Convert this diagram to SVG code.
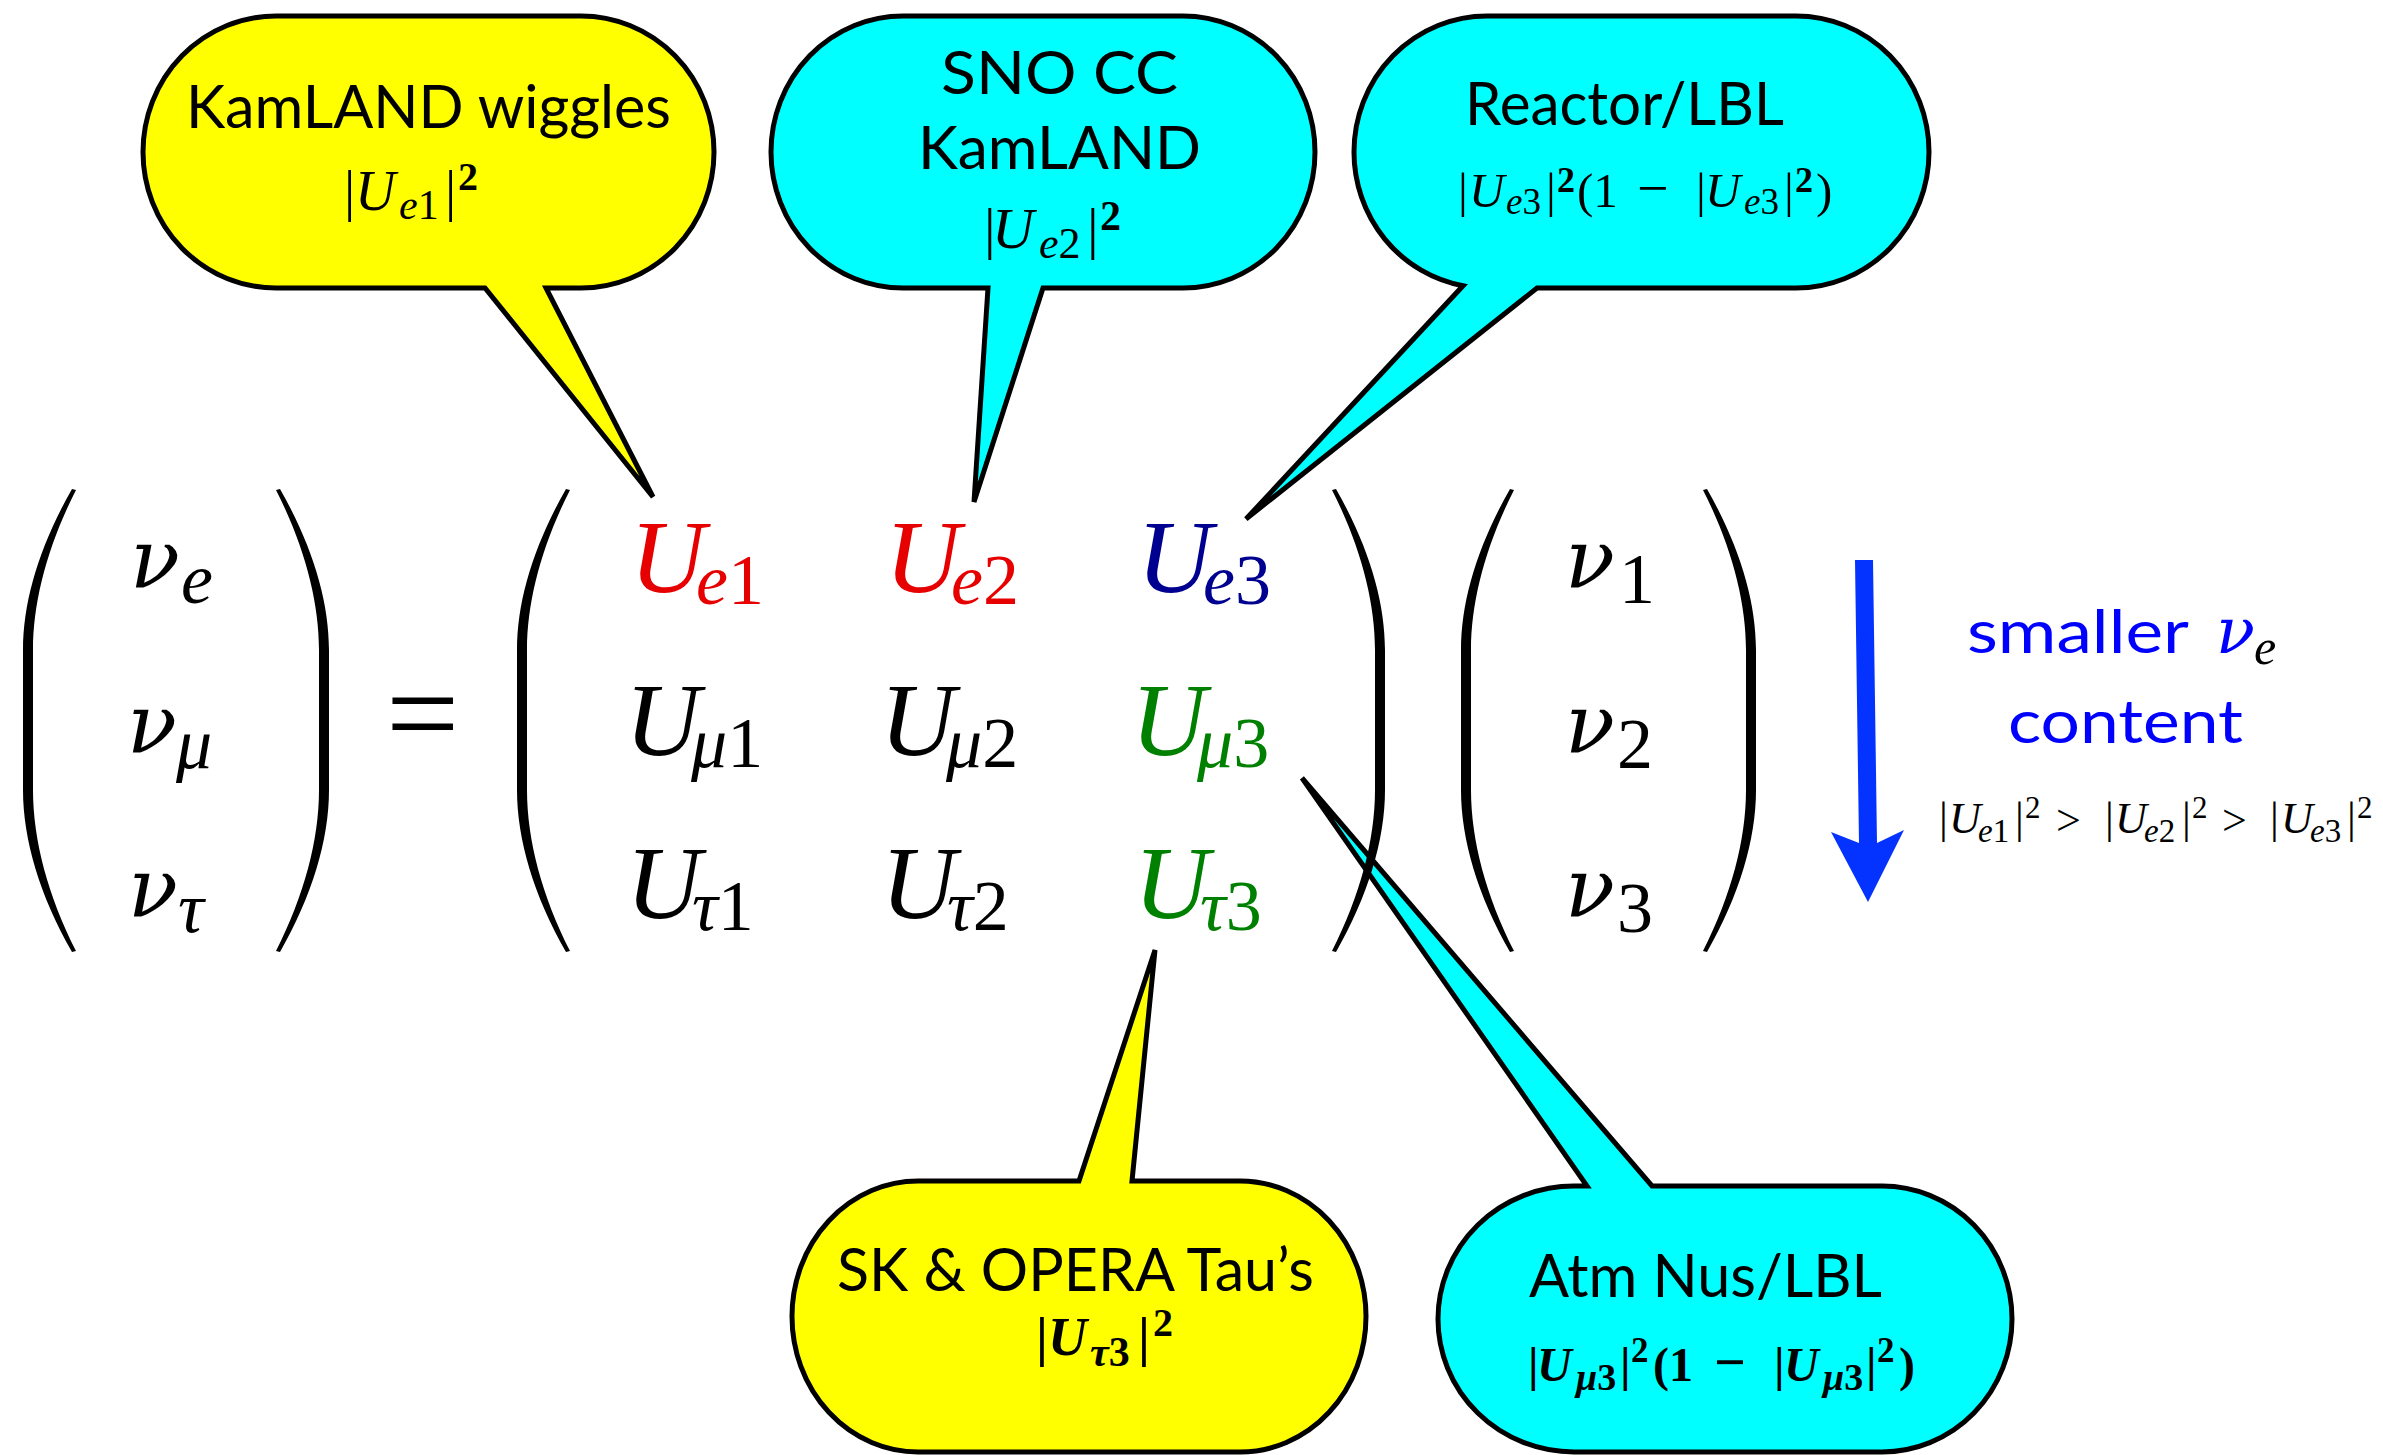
<svg xmlns="http://www.w3.org/2000/svg" xmlns:xlink="http://www.w3.org/1999/xlink" width="2383" height="1455" viewBox="0 0 2383 1455">
<style>
.bub{stroke:#000;stroke-width:5;stroke-linejoin:miter}
.y{fill:#ffff00}
.c{fill:#00ffff}
.t{font-family:Lato,"Open Sans","Liberation Sans",sans-serif;font-size:60px;fill:#000}
.m{font-family:"Liberation Serif","DejaVu Serif",serif;fill:#000}
.nu{font-family:"DejaVu Serif","Liberation Serif",serif;font-style:italic;font-size:82px}
.i{font-style:italic}
.b{font-weight:bold}
.big{font-size:104px}
.sub{font-size:72px}
.red{fill:#e60000}
.navy{fill:#000090}
.grn{fill:#008000}
.blue{fill:#0000ff}
.par{fill:#000}
</style>
<defs>
<path id="lp" d="M0,489 C-32,545 -49,600 -49,650 L-49,790 C-49,840 -32,896 0,952 L4,951 C-24,896 -39,840 -39,790 L-39,650 C-39,600 -24,545 4,490 Z"/>
</defs>

<g id="bubble-kamland-wiggles">
<path class="bub y" d="M276,16 H581 A133,136 0 0 1 714,152 A133,136 0 0 1 581,288 H546 L653,497 L485,288 H276 A133,136 0 0 1 143,152 A133,136 0 0 1 276,16 Z"/>
<text class="t" x="186" y="128" textLength="485" lengthAdjust="spacingAndGlyphs">KamLAND wiggles</text>
<text class="m" font-size="56"><tspan x="344" y="210">|</tspan><tspan x="355" class="i">U</tspan><tspan x="399" y="219" font-size="42" class="i">e</tspan><tspan font-size="42">1</tspan><tspan x="445" y="210">|</tspan><tspan x="458" y="190" font-size="40" class="b">2</tspan></text>
</g>

<g id="bubble-sno-cc">
<path class="bub c" d="M903,16 H1183 A132,136 0 0 1 1315,152 A132,136 0 0 1 1183,288 H1043 L974,502 L988,288 H903 A132,136 0 0 1 771,152 A132,136 0 0 1 903,16 Z"/>
<text class="t" x="941" y="94" textLength="237" lengthAdjust="spacingAndGlyphs">SNO CC</text>
<text class="t" x="918" y="169" textLength="283" lengthAdjust="spacingAndGlyphs">KamLAND</text>
<text class="m" font-size="58"><tspan x="984" y="248">|</tspan><tspan x="992" class="i">U</tspan><tspan x="1039" y="258" font-size="44" class="i">e</tspan><tspan font-size="44">2</tspan><tspan x="1087" y="248">|</tspan><tspan x="1100" y="230" font-size="42" class="b">2</tspan></text>
</g>

<g id="bubble-reactor-lbl">
<path class="bub c" d="M1487,16 H1796 A133,136 0 0 1 1929,152 A133,136 0 0 1 1796,288 H1537 L1246,519 L1463,285.8 A133,136 0 0 1 1354,152 A133,136 0 0 1 1487,16 Z"/>
<text class="t" x="1465" y="125" textLength="319" lengthAdjust="spacingAndGlyphs">Reactor/LBL</text>
<text class="m" font-size="49"><tspan x="1458" y="207">|</tspan><tspan x="1469" class="i">U</tspan><tspan x="1506" y="214" font-size="37" class="i">e</tspan><tspan font-size="37">3</tspan><tspan x="1546" y="207">|</tspan><tspan x="1557" y="192" font-size="36" class="b">2</tspan><tspan x="1577" y="207">(1</tspan><tspan x="1637" font-size="56">−</tspan><tspan x="1696" font-size="49">|</tspan><tspan x="1705" class="i">U</tspan><tspan x="1744" y="214" font-size="37" class="i">e</tspan><tspan font-size="37">3</tspan><tspan x="1784" y="207">|</tspan><tspan x="1795" y="192" font-size="36" class="b">2</tspan><tspan x="1816" y="207">)</tspan></text>
</g>

<g id="bubble-sk-opera">
<path class="bub y" d="M918,1181 H1079 L1155,950 L1132,1181 H1240 A126,135.5 0 0 1 1366,1316.5 A126,135.5 0 0 1 1240,1452 H918 A126,135.5 0 0 1 792,1316.5 A126,135.5 0 0 1 918,1181 Z"/>
<text class="t" x="837" y="1291" textLength="477" lengthAdjust="spacingAndGlyphs">SK &amp; OPERA Tau’s</text>
<text class="m b" font-size="54"><tspan x="1036" y="1355">|</tspan><tspan x="1048" class="i">U</tspan><tspan x="1090" y="1366" font-size="42" class="i">τ</tspan><tspan font-size="42">3</tspan><tspan x="1138" y="1355">|</tspan><tspan x="1153" y="1336" font-size="40">2</tspan></text>
</g>

<g id="bubble-atm-nus">
<path class="bub c" d="M1574,1186 H1587 L1302,778 L1652,1186 H1882 A130,133 0 0 1 2012,1319 A130,133 0 0 1 1882,1452 H1574 A136,133 0 0 1 1438,1319 A136,133 0 0 1 1574,1186 Z"/>
<text class="t" x="1529" y="1297" textLength="353" lengthAdjust="spacingAndGlyphs">Atm Nus/LBL</text>
<text class="m b" font-size="48"><tspan x="1528" y="1381">|</tspan><tspan x="1537" class="i">U</tspan><tspan x="1576" y="1390" font-size="38" class="i">μ</tspan><tspan font-size="38">3</tspan><tspan x="1620" y="1381">|</tspan><tspan x="1631" y="1362" font-size="35">2</tspan><tspan x="1653" y="1381">(1</tspan><tspan x="1714" font-size="56">−</tspan><tspan x="1774" font-size="48">|</tspan><tspan x="1784" class="i">U</tspan><tspan x="1823" y="1390" font-size="38" class="i">μ</tspan><tspan font-size="38">3</tspan><tspan x="1866" y="1381">|</tspan><tspan x="1877" y="1362" font-size="35">2</tspan><tspan x="1899" y="1381">)</tspan></text>
</g>

<g id="flavour-vector">
<use xlink:href="#lp" href="#lp" x="72" class="par"/>
<use xlink:href="#lp" href="#lp" transform="translate(280,0) scale(-1,1)" class="par"/>
<text class="nu" x="130" y="588">ν<tspan x="181" y="603" class="m sub">e</tspan></text>
<text class="nu" x="127" y="753">ν<tspan x="176" y="768" class="m sub">μ</tspan></text>
<text class="nu" x="128" y="917">ν<tspan x="178" y="932" class="m sub">τ</tspan></text>
</g>

<g id="equals">
<text class="m" x="386" y="757" font-size="130">=</text>
</g>

<g id="mixing-matrix">
<use xlink:href="#lp" href="#lp" x="566" class="par"/>
<use xlink:href="#lp" href="#lp" transform="translate(1336,0) scale(-1,1)" class="par"/>
<text class="m i big red" x="630" y="592">U<tspan x="696" y="604" class="sub">e</tspan><tspan class="sub" font-style="normal">1</tspan></text>
<text class="m i big red" x="885" y="592">U<tspan x="951" y="604" class="sub">e</tspan><tspan class="sub" font-style="normal">2</tspan></text>
<text class="m i big navy" x="1137" y="592">U<tspan x="1203" y="604" class="sub">e</tspan><tspan class="sub" font-style="normal">3</tspan></text>
<text class="m i big" x="625" y="755">U<tspan x="691" y="767" class="sub">μ</tspan><tspan class="sub" font-style="normal">1</tspan></text>
<text class="m i big" x="880" y="755">U<tspan x="946" y="767" class="sub">μ</tspan><tspan class="sub" font-style="normal">2</tspan></text>
<text class="m i big grn" x="1131" y="755">U<tspan x="1197" y="767" class="sub">μ</tspan><tspan class="sub" font-style="normal">3</tspan></text>
<text class="m i big" x="626" y="918">U<tspan x="692" y="930" class="sub">τ</tspan><tspan class="sub" font-style="normal">1</tspan></text>
<text class="m i big" x="881" y="918">U<tspan x="947" y="930" class="sub">τ</tspan><tspan class="sub" font-style="normal">2</tspan></text>
<text class="m i big grn" x="1134" y="918">U<tspan x="1200" y="930" class="sub">τ</tspan><tspan class="sub" font-style="normal">3</tspan></text>
</g>

<g id="mass-vector">
<use xlink:href="#lp" href="#lp" x="1510" class="par"/>
<use xlink:href="#lp" href="#lp" transform="translate(1707,0) scale(-1,1)" class="par"/>
<text class="nu" x="1565" y="588">ν<tspan x="1619" y="603" class="m sub" font-style="normal">1</tspan></text>
<text class="nu" x="1565" y="753">ν<tspan x="1617" y="768" class="m sub" font-style="normal">2</tspan></text>
<text class="nu" x="1565" y="917">ν<tspan x="1617" y="932" class="m sub" font-style="normal">3</tspan></text>
</g>

<g id="connectors">
<polygon id="arrow-smaller" fill="#0433ff" points="1855,560 1873,560 1877,843 1904,830 1868,902 1831,832 1859,843"/>
</g>

<g id="label-smaller-content">
<text class="t blue" x="1967" y="653" font-size="66" textLength="222" lengthAdjust="spacingAndGlyphs">smaller</text>
<text class="nu blue" x="2216" y="653" style="font-size:64px">ν<tspan x="2254" y="664" class="m" style="font-size:50px">e</tspan></text>
<text class="t blue" x="2008" y="743" font-size="66" textLength="235" lengthAdjust="spacingAndGlyphs">content</text>
</g>

<g id="label-inequality">
<text class="m" font-size="44" fill="#222"><tspan x="1939" y="833">|</tspan><tspan x="1949" class="i">U</tspan><tspan x="1978" y="842" font-size="33" class="i">e</tspan><tspan font-size="33">1</tspan><tspan x="2015" y="833">|</tspan><tspan x="2025" y="818" font-size="31">2</tspan><tspan x="2056" y="835">&gt;</tspan><tspan x="2105" y="833">|</tspan><tspan x="2115" class="i">U</tspan><tspan x="2144" y="842" font-size="33" class="i">e</tspan><tspan font-size="33">2</tspan><tspan x="2182" y="833">|</tspan><tspan x="2192" y="818" font-size="31">2</tspan><tspan x="2222" y="835">&gt;</tspan><tspan x="2270" y="833">|</tspan><tspan x="2281" class="i">U</tspan><tspan x="2310" y="842" font-size="33" class="i">e</tspan><tspan font-size="33">3</tspan><tspan x="2347" y="833">|</tspan><tspan x="2357" y="818" font-size="31">2</tspan></text>
</g>
</svg>
